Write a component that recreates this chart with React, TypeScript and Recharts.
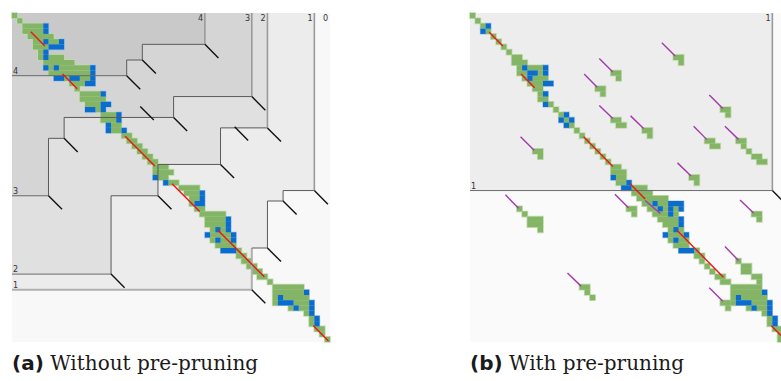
import React from 'react';
import { ComposedChart, XAxis, YAxis, ReferenceArea, ReferenceLine, ReferenceDot } from 'recharts';

type Run = [number, number, number]; // [row, colStart, colEnd]
type Seg = [number, number, number, number]; // [c1, r1, c2, r2]
type Pt = [number, number]; // [col, row]

const COLS = 61;
const ROWS = 63;
const TICK = 2.6;

// ---------- Panel (a): hierarchy levels, staircase corners [col,row] ----------
const levelA1: Pt[] = [[46, 53], [49, 45], [52, 36], [58, 34]];
const levelA2: Pt[] = [[19, 50], [28, 35], [40, 29], [49, 22]];
const levelA3: Pt[] = [[7, 35], [10, 24], [31, 20], [46, 16]];
const levelA4: Pt[] = [[22, 12], [25, 9], [37, 6]];
const extraTicksA: Pt[] = [[42.7, 21.8], [24.6, 17.9]];
const levelNamesA = ['1', '2', '3', '4'];

// ---------- Panel (b): hierarchy levels ----------
const levelB1: Pt[] = [[58, 34]];
const levelNamesB = ['1'];

// ---------- Panel (a) cells ----------
const greenA: Run[] = [
  [0, 0, 0], [1, 1, 1], [2, 2, 5], [3, 2, 5], [4, 3, 7], [5, 4, 5], [5, 7, 8], [6, 4, 6],
  [7, 5, 5], [8, 5, 5], [8, 7, 9], [9, 6, 11], [10, 7, 7], [10, 9, 14], [11, 7, 14],
  [12, 10, 10], [12, 13, 14], [13, 11, 13], [14, 12, 12], [15, 13, 16], [16, 13, 17],
  [17, 14, 16], [18, 16, 16], [19, 17, 19], [20, 17, 19], [21, 19, 20], [22, 19, 20],
  [23, 21, 22], [24, 22, 23], [25, 23, 24], [26, 24, 25], [27, 25, 26], [28, 26, 27],
  [29, 27, 29], [30, 27, 30], [31, 28, 29], [32, 30, 31], [33, 32, 35], [34, 33, 35],
  [35, 34, 35], [36, 34, 34], [37, 35, 36], [38, 36, 40], [39, 37, 40], [40, 37, 40],
  [41, 38, 38], [41, 40, 40], [42, 38, 41], [43, 38, 38], [43, 40, 41], [44, 39, 42],
  [45, 43, 43], [46, 43, 44], [47, 44, 45], [48, 45, 46], [49, 46, 47], [50, 47, 48],
  [51, 49, 49], [52, 50, 55], [53, 50, 55], [54, 50, 50], [54, 52, 56], [55, 50, 50],
  [55, 54, 56], [56, 53, 53], [56, 55, 56], [57, 56, 56], [58, 57, 57], [59, 57, 57],
  [60, 58, 59], [61, 59, 59], [62, 60, 60],
];
const blueA: Run[] = [
  [2, 6, 6], [3, 6, 6], [5, 6, 6], [5, 9, 9], [6, 7, 9], [7, 6, 6], [8, 6, 6], [10, 6, 6],
  [10, 8, 8], [10, 15, 15], [11, 15, 15], [12, 8, 9], [12, 11, 12], [12, 15, 15], [13, 14, 15],
  [15, 17, 17], [17, 17, 18], [18, 14, 15], [18, 17, 17], [19, 20, 20], [20, 20, 20],
  [21, 18, 18], [22, 18, 18], [22, 21, 21], [31, 27, 27], [32, 29, 29], [34, 36, 36],
  [35, 36, 36], [36, 35, 36], [39, 41, 41], [40, 41, 41], [41, 39, 39], [41, 41, 41],
  [42, 37, 37], [42, 42, 42], [43, 39, 39], [43, 42, 42], [45, 40, 42], [53, 56, 56],
  [54, 51, 51], [55, 51, 53], [55, 57, 57], [56, 54, 54], [56, 57, 57], [57, 57, 57],
  [58, 58, 58], [59, 58, 58],
];
const redA: Seg[] = [
  [3.6, 3.6, 6.3, 6.3], [9.7, 11.7, 12.5, 14.5], [21.7, 23.6, 27.4, 29.3],
  [30.7, 32.7, 36, 38], [39.5, 41.6, 48.4, 50.5], [57.8, 59.9, 60.7, 62.8],
];

// ---------- Panel (b) cells ----------
const greenB: Run[] = [
  [0, 0, 0], [1, 1, 1], [2, 2, 2], [3, 3, 3], [4, 4, 4], [5, 5, 5], [6, 6, 6], [7, 7, 7],
  [8, 8, 9], [9, 8, 10], [10, 9, 9], [10, 11, 13], [11, 9, 10], [11, 13, 13], [12, 10, 10],
  [12, 12, 14], [13, 11, 13], [14, 12, 13], [15, 13, 13], [16, 13, 14], [17, 15, 15],
  [18, 16, 16], [19, 17, 17], [20, 18, 18], [21, 19, 19], [22, 20, 20], [23, 21, 21],
  [24, 22, 22], [25, 23, 23], [26, 24, 24], [27, 25, 25], [28, 26, 26], [29, 27, 28],
  [30, 27, 29], [31, 28, 29], [32, 28, 29], [33, 31, 33], [34, 31, 34], [35, 32, 37],
  [36, 33, 34], [36, 36, 37], [37, 34, 35], [37, 37, 37], [37, 39, 39], [38, 35, 37],
  [38, 39, 39], [39, 36, 39], [40, 37, 39], [41, 38, 38], [41, 40, 40], [42, 38, 40],
  [43, 38, 38], [43, 40, 41], [44, 39, 41], [45, 43, 43], [46, 43, 44], [47, 44, 44],
  [48, 45, 45], [49, 46, 46], [50, 47, 48], [51, 48, 49], [52, 50, 55], [53, 50, 55],
  [54, 50, 50], [54, 52, 56], [55, 50, 50], [55, 54, 56], [56, 53, 53], [56, 55, 56],
  [57, 56, 56], [58, 57, 57], [59, 57, 57], [60, 58, 59], [61, 59, 59], [62, 59, 60],
];
const clustersB: Run[] = [
  [8, 39, 40], [9, 40, 40], [11, 27, 28], [12, 28, 28], [14, 24, 25], [15, 25, 25],
  [20, 27, 28], [21, 28, 29], [22, 33, 34], [23, 34, 34], [26, 12, 13], [27, 13, 13],
  [18, 48, 49], [19, 49, 49], [24, 45, 46], [25, 46, 47], [24, 51, 52], [25, 52, 52],
  [26, 53, 53], [27, 54, 55], [28, 55, 56], [31, 42, 43], [32, 43, 43], [37, 9, 9],
  [38, 10, 10], [39, 11, 13], [40, 11, 13], [41, 13, 13], [52, 21, 22], [53, 22, 22],
  [54, 23, 23], [37, 30, 31], [38, 31, 31], [38, 54, 55], [39, 55, 55], [47, 51, 51],
  [48, 52, 53], [49, 52, 53], [50, 54, 55], [51, 55, 55], [55, 48, 49], [56, 49, 49],
];
const blueB: Run[] = [
  [2, 3, 3], [3, 2, 2], [10, 10, 10], [10, 14, 14], [11, 11, 12], [11, 14, 14], [12, 11, 11],
  [13, 14, 15], [15, 14, 14], [17, 14, 14], [19, 18, 18], [20, 17, 17], [20, 19, 19],
  [21, 18, 18], [31, 27, 27], [32, 30, 30], [33, 29, 30], [36, 35, 35], [36, 38, 40],
  [37, 36, 36], [37, 38, 38], [37, 40, 40], [38, 38, 38], [39, 40, 40], [40, 40, 40],
  [41, 39, 39], [42, 37, 37], [42, 41, 41], [43, 39, 39], [45, 40, 42], [53, 56, 56],
  [54, 51, 51], [55, 51, 53], [55, 57, 57], [56, 54, 54], [56, 57, 57], [57, 57, 57],
  [58, 58, 58], [59, 58, 58],
];
const redB: Seg[] = [
  [3.7, 3.7, 6.3, 6.3], [9.8, 11.7, 12.4, 14.3], [21.8, 23.7, 27.4, 29.4],
  [30.7, 32.7, 33.6, 35.6], [39.7, 41.6, 48.6, 50.6], [57.8, 59.9, 60.7, 62.8],
];
const purpleB: Seg[] = [
  [36.8, 5.7, 39.35, 8.25], [24.8, 8.7, 27.4, 11.3], [21.9, 11.7, 24.4, 14.2],
  [24.8, 17.7, 27.4, 20.2], [30.8, 19.7, 33.3, 22.1], [9.7, 23.7, 12.3, 26.3],
  [45.9, 15.7, 48.5, 18.3], [42.9, 21.7, 45.4, 24.2], [48.9, 21.7, 51.5, 24.2],
  [39.8, 28.7, 42.4, 31.2], [6.8, 34.8, 9.3, 37.4], [18.7, 49.8, 21.3, 52.3],
  [27.8, 34.7, 30.4, 37.3], [33.6, 35.9, 36.5, 38.4], [51.8, 35.8, 54.4, 38.3],
  [48.9, 44.7, 51.5, 47.4], [45.9, 52.6, 48.5, 55.2],
];

// ---------- styles ----------
const GREEN = '#84b567';
const GREEN_EDGE = '#c2dcb0';
const BLUE = '#0a6dce';
const BLUE_EDGE = '#9cc2ea';
const RED = '#f01414';
const PURPLE = '#a23aaa';
const FILLS_A = ['#ececec', '#e0e0e0', '#d5d5d5', '#c9c9c9'];
const FILLS_B = ['#ededed'];
const PAD = 8;
const PLOT_W = 318;
const PLOT_H = 329;

type PanelProps = {
  left: number;
  top: number;
  levels: Pt[][];
  names: string[];
  fills: string[];
  base: string;
  green: Run[];
  blue: Run[];
  red: Seg[];
  purple: Seg[];
  extraTicks: Pt[];
  thickLevel1: boolean;
  showZero: boolean;
};

function seg(s: Seg, stroke: string, w: number, key: string) {
  return (
    <ReferenceLine
      key={key}
      segment={[{ x: s[0], y: s[1] }, { x: s[2], y: s[3] }]}
      stroke={stroke}
      strokeWidth={w}
      ifOverflow="visible"
    />
  );
}

function Panel(p: PanelProps) {
  const els: React.ReactNode[] = [];
  els.push(
    <ReferenceArea key="base" x1={0} x2={COLS} y1={0} y2={ROWS} fill={p.base} fillOpacity={1} stroke="none" ifOverflow="visible" />
  );
  p.levels.forEach((corners, li) => {
    corners.forEach(([c, r], i) => {
      els.push(
        <ReferenceArea key={`lv${li}-${i}`} x1={0} x2={c} y1={0} y2={r} fill={p.fills[li]} fillOpacity={1} stroke="none" ifOverflow="visible" />
      );
    });
  });
  const cell = (runs: Run[], fill: string, stroke: string, sw: number, tag: string) =>
    runs.forEach(([r, c0, c1], i) => {
      els.push(
        <ReferenceArea key={`${tag}${i}`} x1={c0} x2={c1 + 1} y1={r} y2={r + 1} fill={fill} fillOpacity={1} stroke={stroke} strokeWidth={sw} ifOverflow="visible" />
      );
    });
  // halo layers first, then solid fills on top so halos only show at outer edges
  cell(p.green, GREEN_EDGE, GREEN_EDGE, 1.6, 'gh');
  cell(p.blue, BLUE_EDGE, BLUE_EDGE, 1.2, 'bh');
  cell(p.green, GREEN, 'none', 0, 'g');
  cell(p.blue, BLUE, 'none', 0, 'b');

  // staircase outlines
  p.levels.forEach((corners, li) => {
    const n = corners.length;
    const isL1thick = p.thickLevel1 && li === 0;
    const leftStroke = isL1thick ? '#b0b0b0' : '#6a6a6a';
    const leftW = isL1thick ? 2 : 1;
    els.push(seg([0, corners[0][1], corners[0][0], corners[0][1]], leftStroke, leftW, `le${li}`));
    for (let i = 0; i < n - 1; i++) {
      const [c, r] = corners[i];
      const [cN, rN] = corners[i + 1];
      const vStroke = isL1thick && i === 0 ? '#b0b0b0' : '#5a5a5a';
      const vW = isL1thick && i === 0 ? 2 : 1;
      els.push(seg([c, r, c, rN], vStroke, vW, `sv${li}-${i}`));
      els.push(seg([c, rN, cN, rN], '#5a5a5a', 1, `sh${li}-${i}`));
    }
    els.push(seg([corners[n - 1][0], corners[n - 1][1], corners[n - 1][0], 0], '#9a9a9a', 1.6, `te${li}`));
  });

  // ticks
  p.levels.forEach((corners, li) =>
    corners.forEach(([c, r], i) => els.push(seg([c, r, c + TICK, r + TICK], '#111', 1.4, `tk${li}-${i}`)))
  );
  p.extraTicks.forEach(([c, r], i) => els.push(seg([c, r, c + TICK, r + TICK], '#111', 1.4, `xt${i}`)));

  p.red.forEach((s, i) => els.push(seg(s, RED, 1.4, `rd${i}`)));
  p.purple.forEach((s, i) => els.push(seg(s, PURPLE, 1.4, `pu${i}`)));

  // labels
  const txt = (dx: number, dy: number, anchor: string, t: string) => (q: any) => (
    <text x={q.cx + dx} y={q.cy + dy} fontSize={8} fill="#333" fontFamily="DejaVu Sans" textAnchor={anchor}>
      {t}
    </text>
  );
  p.levels.forEach((corners, li) => {
    const name = p.names[li];
    const r0 = corners[0][1];
    const cn = corners[corners.length - 1][0];
    els.push(<ReferenceDot key={`ll${li}`} x={0} y={r0} r={0} ifOverflow="visible" shape={txt(1, -1.8, 'start', name)} />);
    els.push(<ReferenceDot key={`tl${li}`} x={cn} y={0} r={0} ifOverflow="visible" shape={txt(-1.8, 8.3, 'end', name)} />);
  });
  if (p.showZero) {
    els.push(<ReferenceDot key="zero" x={COLS} y={0} r={0} ifOverflow="visible" shape={txt(-2, 8.3, 'end', '0')} />);
  }

  return (
    <div style={{ position: 'absolute', left: p.left - PAD, top: p.top - PAD }}>
      <ComposedChart
        width={PLOT_W + 2 * PAD}
        height={PLOT_H + 2 * PAD}
        margin={{ top: PAD, right: PAD, bottom: PAD, left: PAD }}
      >
        <XAxis type="number" dataKey="x" domain={[0, COLS]} hide allowDataOverflow />
        <YAxis type="number" dataKey="y" domain={[0, ROWS]} reversed hide allowDataOverflow />
        {els}
      </ComposedChart>
    </div>
  );
}

const captionStyle: React.CSSProperties = {
  position: 'absolute',
  top: 353,
  fontSize: 20,
  lineHeight: '20px',
  color: '#1a1a1a',
  whiteSpace: 'nowrap',
  fontFamily: 'DejaVu Serif',
};

export default function App() {
  return (
    <div style={{ position: 'absolute', left: 0, top: 0, width: 781, height: 381, overflow: 'hidden', background: '#fff' }}>
      <Panel
        left={12}
        top={13}
        levels={[levelA1, levelA2, levelA3, levelA4]}
        names={levelNamesA}
        fills={FILLS_A}
        base="#f8f8f8"
        green={greenA}
        blue={blueA}
        red={redA}
        purple={[]}
        extraTicks={extraTicksA}
        thickLevel1={true}
        showZero={true}
      />
      <Panel
        left={470}
        top={13}
        levels={[levelB1]}
        names={levelNamesB}
        fills={FILLS_B}
        base="#fafafa"
        green={[...greenB, ...clustersB]}
        blue={blueB}
        red={redB}
        purple={purpleB}
        extraTicks={[]}
        thickLevel1={false}
        showZero={false}
      />
      <div style={{ ...captionStyle, left: 12 }}>
        <span style={{ fontFamily: 'DejaVu Sans', fontWeight: 'bold' }}>(a)</span> Without pre-pruning
      </div>
      <div style={{ ...captionStyle, left: 470 }}>
        <span style={{ fontFamily: 'DejaVu Sans', fontWeight: 'bold' }}>(b)</span> With pre-pruning
      </div>
    </div>
  );
}
